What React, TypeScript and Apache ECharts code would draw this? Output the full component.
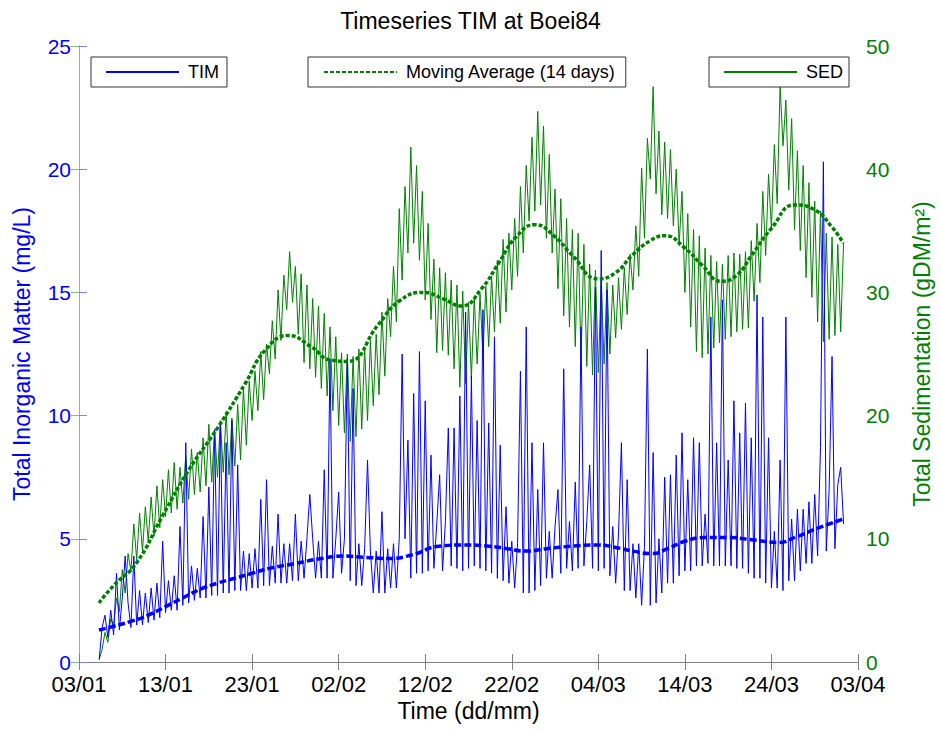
import React, { useEffect, useRef } from "react";
import * as echarts from "echarts";

// ---- x axis (days since 03/01) ----
const X_TICK_LABELS = ["03/01", "13/01", "23/01", "02/02", "12/02", "22/02", "04/03", "14/03", "24/03", "03/04"];
const X_MIN_DAY = 0;
const X_MAX_DAY = 90;
const X_TICK_STEP = 10;

// samples: first sample at day 2.333, then every 1/3 day
const SAMPLE_START_DAY = 7 / 3;
const SAMPLE_STEP_DAYS = 1 / 3;

// ---- SED (gDM/m2), right axis ----
const SED_VALUES = [
  0.2, 1.0,
  2.4, 1.6, 3.5,
  3.0, 5.2, 4.1,
  7.5, 5.6, 8.8,
  7.4, 11.2, 8.3,
  12.1, 9.0, 12.6,
  9.8, 13.4, 10.2,
  14.3, 10.9, 14.8,
  11.8, 15.6, 12.1,
  16.2, 12.4, 15.8,
  12.9, 16.7, 13.2,
  17.3, 13.6, 17.0,
  13.8, 18.2, 14.3,
  19.3, 14.6, 18.9,
  15.0, 19.6, 15.4,
  20.3, 15.2, 19.8,
  15.9, 20.9, 16.4,
  22.2, 17.6, 22.8,
  19.6, 23.6, 20.4,
  25.2, 21.3, 25.8,
  23.4, 27.7, 24.6,
  30.2, 26.1, 31.4,
  28.6, 33.3, 29.2,
  32.1, 26.6, 31.5,
  24.3, 30.6, 23.8,
  29.5, 23.1, 28.9,
  22.2, 28.3, 21.6,
  27.2, 20.4, 26.4,
  19.2, 25.1, 18.6,
  25.0, 17.9, 24.8,
  18.3, 25.4, 18.9,
  25.6, 19.6, 26.1,
  20.8, 26.6, 21.7,
  28.4, 23.2, 29.5,
  26.4, 32.1, 27.6,
  36.8, 31.0, 38.6,
  33.2, 41.8, 34.0,
  40.3, 32.6, 38.2,
  29.4, 35.6, 27.8,
  32.7, 25.1, 32.0,
  25.3, 31.6, 24.9,
  31.0, 23.8, 30.6,
  22.3, 30.1, 22.6,
  29.2, 23.0, 29.6,
  24.2, 29.9, 24.8,
  30.5, 25.6, 31.3,
  26.8, 32.6, 27.5,
  34.3, 28.4, 34.8,
  30.2, 36.0, 31.3,
  38.6, 33.2, 40.3,
  35.8, 42.6, 36.6,
  44.7, 37.1, 43.5,
  34.4, 41.2, 33.2,
  38.4, 30.3, 37.6,
  28.1, 36.0, 27.2,
  35.1, 25.6, 34.8,
  24.6, 33.9, 24.0,
  32.3, 23.3, 31.8,
  23.5, 31.0, 24.2,
  30.8, 25.0, 30.6,
  26.3, 31.2, 27.0,
  32.0, 28.2, 33.1,
  30.2, 35.4, 31.3,
  40.1, 34.4, 42.5,
  39.2, 46.7, 38.0,
  43.1, 36.3, 42.2,
  36.0, 41.6, 35.4,
  40.0, 33.8, 38.2,
  30.0, 36.4, 27.2,
  35.1, 25.2, 34.6,
  24.7, 33.6, 25.0,
  33.0, 25.5, 32.5,
  25.9, 32.3, 26.2,
  33.0, 26.4, 33.2,
  26.8, 33.1, 27.0,
  33.3, 27.1, 34.2,
  29.3, 35.6, 30.8,
  38.2, 33.0, 39.6,
  35.1, 42.0, 37.2,
  46.8, 41.9, 45.6,
  38.3, 44.1, 35.1,
  41.5, 33.4, 40.3,
  31.2, 38.9, 29.6,
  37.4, 27.6, 36.6,
  26.0, 34.8, 26.2,
  34.5, 26.5, 33.9,
  26.8, 34.0,
];

// ---- TIM (mg/L), left axis ----
const TIM_VALUES = [
  0.1, 1.4,
  1.9, 1.0, 2.1,
  1.1, 3.6, 1.3,
  2.6, 4.3, 2.4,
  1.4, 4.3, 1.5,
  2.9, 1.5, 2.8,
  1.6, 3.0, 1.7,
  3.2, 1.8, 4.9,
  2.0, 3.3, 2.1,
  3.5, 2.1, 5.5,
  2.3, 8.9, 2.4,
  3.9, 2.5, 3.8,
  2.6, 5.9, 2.6,
  7.1, 2.7, 9.4,
  2.7, 9.7, 2.8,
  8.9, 2.8, 9.8,
  2.9, 8.0, 2.9,
  4.5, 2.9, 4.4,
  3.0, 4.6, 3.0,
  6.6, 3.1, 7.4,
  3.1, 4.7, 3.2,
  6.0, 3.2, 4.8,
  3.2, 4.8, 3.3,
  6.0, 3.3, 4.9,
  3.4, 5.0, 6.8,
  5.0, 3.4, 4.9,
  3.4, 7.8, 3.4,
  12.3, 3.4, 5.0,
  6.9, 3.6, 5.0,
  12.3, 3.3, 11.1,
  3.1, 4.8, 3.1,
  4.6, 8.2, 4.5,
  2.8, 4.5, 2.8,
  6.1, 2.8, 4.6,
  3.0, 4.8, 3.0,
  5.0, 12.5, 5.0,
  9.0, 3.4, 10.9,
  3.6, 12.6, 3.6,
  10.6, 3.7, 8.4,
  3.8, 5.6, 7.6,
  3.7, 5.7, 9.5,
  3.9, 9.5, 3.8,
  10.8, 3.7, 14.2,
  3.8, 11.6, 3.9,
  9.8, 3.8, 14.3,
  3.7, 9.7, 3.6,
  13.2, 3.4, 8.8,
  3.3, 6.3, 3.2,
  4.9, 3.0, 4.8,
  11.8, 2.8, 13.6,
  2.8, 8.9, 2.9,
  7.0, 3.1, 8.9,
  3.4, 5.3, 3.4,
  5.5, 7.0, 3.6,
  11.9, 3.8, 5.7,
  3.7, 7.3, 3.8,
  13.6, 3.9, 5.7,
  8.0, 3.8, 15.2,
  3.7, 16.7, 3.8,
  15.1, 3.5, 5.5,
  3.2, 5.2, 8.9,
  2.9, 7.4, 2.9,
  4.8, 2.6, 4.8,
  2.3, 4.7, 12.7,
  2.3, 8.5, 2.4,
  5.0, 2.8, 7.5,
  3.2, 7.6, 3.2,
  8.4, 3.5, 9.3,
  3.7, 7.4, 3.7,
  9.1, 3.9, 8.9,
  3.9, 6.0, 4.0,
  14.0, 3.9, 8.9,
  3.9, 14.7, 3.9,
  8.2, 3.9, 10.6,
  3.8, 9.3, 3.8,
  10.5, 3.6, 9.1,
  3.4, 14.9, 3.4,
  14.0, 3.2, 9.1,
  3.0, 5.3, 3.0,
  8.2, 2.9, 14.0,
  3.3, 5.8, 3.3,
  6.2, 3.7, 6.2,
  4.0, 6.5, 4.0,
  6.8, 4.3, 8.7,
  20.3, 4.5, 7.0,
  12.4, 4.6, 7.2,
  7.9, 5.6,
];

// ---- 14-day moving averages: [day, value] ----
const SED_MA_DAYS = [2.3, 4, 6.6, 9.6, 12.7, 16.1, 19.2, 21.5, 24.2, 26.8, 29.1, 31, 34.6, 37, 39.8, 42, 44.2, 46.5, 48.5, 50.5, 52.7, 55, 57, 60, 62, 63.9, 66, 67.7, 70, 72, 74.2, 76, 77.7, 80, 82.7, 85, 87, 88.3];
const SED_MA_VALUES = [4.8, 6.2, 8.0, 11.8, 15.6, 19.1, 22.6, 25.3, 26.5, 25.6, 24.5, 24.4, 27.4, 29.3, 30.0, 29.5, 28.9, 30.3, 32.4, 34.5, 35.5, 34.5, 33.0, 31.1, 31.6, 33.0, 34.2, 34.6, 33.6, 32.2, 30.9, 31.4, 33.0, 35.2, 37.1, 36.7, 35.3, 34.0];

const TIM_MA_DAYS = [2.3, 4, 6, 8, 10, 12, 14, 16, 18, 20, 22, 25, 28, 30.5, 33, 35.8, 38.5, 41.6, 44.5, 47.4, 49.5, 51.6, 54, 57, 60, 62, 64, 66.2, 68, 70, 72.3, 75, 78, 80.8, 83, 85.5, 88.3];
const TIM_MA_VALUES = [1.3, 1.45, 1.65, 1.9, 2.25, 2.6, 2.95, 3.2, 3.4, 3.6, 3.8, 4.0, 4.2, 4.3, 4.25, 4.2, 4.35, 4.7, 4.75, 4.7, 4.6, 4.5, 4.6, 4.7, 4.75, 4.65, 4.5, 4.4, 4.6, 4.9, 5.05, 5.05, 4.95, 4.85, 5.1, 5.45, 5.8];

const FONT = "'Liberation Sans', Arial, Helvetica, sans-serif";

export default function App() {
  const ref = useRef<HTMLDivElement>(null);

  useEffect(() => {
    if (!ref.current) return;
    const chart = echarts.init(ref.current, null, { renderer: "svg" });

    const sampled = (vals: number[]) => vals.map((v, i) => [SAMPLE_START_DAY + i * SAMPLE_STEP_DAYS, v]);
    const paired = (days: number[], vals: number[]) => days.map((d, i) => [d, vals[i]]);

    const legendBase = {
      top: 57,
      orient: "horizontal",
      backgroundColor: "#fff",
      borderColor: "#333",
      borderWidth: 1,
      borderRadius: 0,
      itemWidth: 73,
      itemHeight: 14,
      selectedMode: false,
      itemStyle: { opacity: 0, borderWidth: 0 },
      textStyle: { fontFamily: FONT, fontSize: 18, color: "#000", padding: [0, 0, 0, 4] },
    };

    const option = {
      animation: false,
      backgroundColor: "#fff",
      textStyle: { fontFamily: FONT },
      title: {
        text: "Timeseries TIM at Boei84",
        left: "center",
        top: 4,
        textStyle: { fontFamily: FONT, fontSize: 23, fontWeight: "normal", color: "#000" },
      },
      legend: [
        { ...legendBase, left: 91, data: ["TIM"], padding: [6, 8, 6, 14] },
        { ...legendBase, left: 308, data: ["Moving Average (14 days)"], padding: [6, 10, 6, 15] },
        { ...legendBase, left: 709, data: ["SED"], padding: [6, 6, 6, 14] },
      ],
      grid: { left: 79, right: 81, top: 46, bottom: 71, containLabel: false },
      xAxis: [
        {
          type: "value",
          min: X_MIN_DAY,
          max: X_MAX_DAY,
          interval: X_TICK_STEP,
          position: "bottom",
          name: "Time (dd/mm)",
          nameLocation: "middle",
          nameGap: 36,
          nameTextStyle: { fontFamily: FONT, fontSize: 23, color: "#000" },
          axisLine: { show: true, lineStyle: { color: "#808080", width: 1 } },
          axisTick: { show: true, inside: true, length: 8, lineStyle: { color: "#808080" } },
          axisLabel: {
            margin: 13,
            fontFamily: FONT,
            fontSize: 22,
            lineHeight: 18,
            color: "#000",
            formatter: (v: number) => X_TICK_LABELS[Math.round((v - X_MIN_DAY) / X_TICK_STEP)] ?? "",
          },
          splitLine: { show: false },
        },
        {
          type: "value",
          min: X_MIN_DAY,
          max: X_MAX_DAY,
          interval: X_TICK_STEP,
          position: "top",
          axisLine: { show: true, lineStyle: { color: "#808080", width: 1 } },
          axisTick: { show: true, inside: true, length: 8, lineStyle: { color: "#808080" } },
          axisLabel: { show: false },
          splitLine: { show: false },
        },
      ],
      yAxis: [
        {
          type: "value",
          min: 0,
          max: 25,
          interval: 5,
          position: "left",
          name: "Total Inorganic Matter (mg/L)",
          nameLocation: "middle",
          nameRotate: 90,
          nameGap: 46,
          nameTextStyle: { fontFamily: FONT, fontSize: 23, color: "#0000ff" },
          axisLine: { show: true, lineStyle: { color: "#8080ff", width: 1 } },
          axisTick: { show: true, inside: true, length: 8, lineStyle: { color: "#8080ff" } },
          axisLabel: { margin: 8, fontFamily: FONT, fontSize: 21, lineHeight: 18, color: "#0000ff" },
          splitLine: { show: false },
        },
        {
          type: "value",
          min: 0,
          max: 50,
          interval: 10,
          position: "right",
          name: "Total Sedimentation (gDM/m²)",
          nameLocation: "middle",
          nameRotate: 90,
          nameGap: 52,
          nameTextStyle: { fontFamily: FONT, fontSize: 23, color: "#008000" },
          axisLine: { show: true, lineStyle: { color: "#80c080", width: 1 } },
          axisTick: { show: true, inside: true, length: 8, lineStyle: { color: "#80c080" } },
          axisLabel: { margin: 8, fontFamily: FONT, fontSize: 21, lineHeight: 18, color: "#008000" },
          splitLine: { show: false },
        },
      ],
      series: [
        {
          name: "SED",
          type: "line",
          xAxisIndex: 0,
          yAxisIndex: 1,
          data: sampled(SED_VALUES),
          symbol: "none",
          showSymbol: false,
          color: "#008000",
          lineStyle: { color: "#008000", width: 1 },
          z: 2,
        },
        {
          name: "TIM",
          type: "line",
          xAxisIndex: 0,
          yAxisIndex: 0,
          data: sampled(TIM_VALUES),
          symbol: "none",
          showSymbol: false,
          color: "#0000ff",
          lineStyle: { color: "#0000ff", width: 1 },
          z: 3,
        },
        {
          name: "Moving Average (14 days)",
          type: "line",
          xAxisIndex: 0,
          yAxisIndex: 1,
          data: paired(SED_MA_DAYS, SED_MA_VALUES),
          smooth: true,
          symbol: "none",
          showSymbol: false,
          color: "#008000",
          lineStyle: { color: "#008000", width: 3.5, type: [4, 2] },
          z: 4,
        },
        {
          name: "TIM Moving Average",
          type: "line",
          xAxisIndex: 0,
          yAxisIndex: 0,
          data: paired(TIM_MA_DAYS, TIM_MA_VALUES),
          smooth: true,
          symbol: "none",
          showSymbol: false,
          color: "#0000ff",
          lineStyle: { color: "#0000ff", width: 3.5, type: [7, 3] },
          z: 5,
        },
      ],
    };

    chart.setOption(option as any);
    return () => chart.dispose();
  }, []);

  return (
    <div
      ref={ref}
      style={{ position: "fixed", left: 0, top: 0, width: 941, height: 733, background: "#fff" }}
    />
  );
}
